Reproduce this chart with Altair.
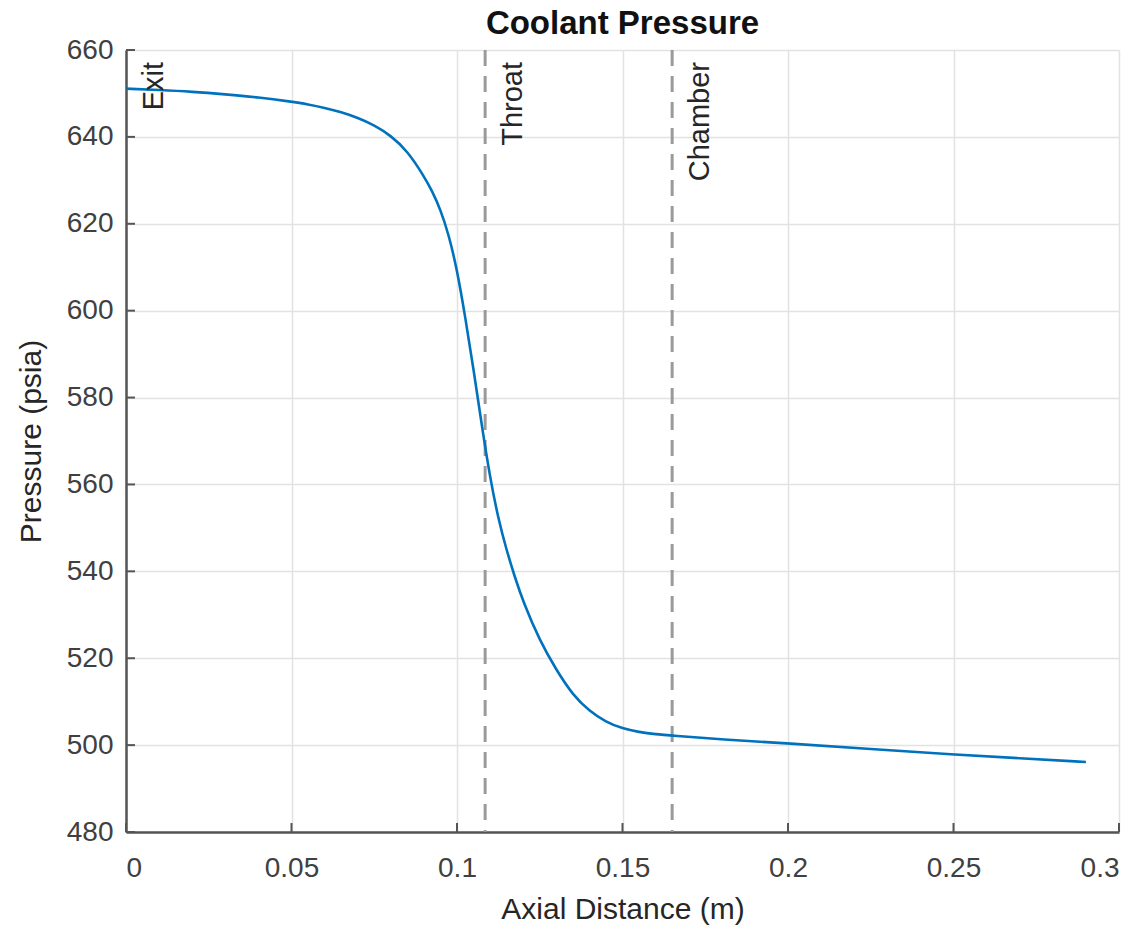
import altair as alt
import pandas as pd

# Curve
dist = [0.0, 0.01, 0.02, 0.03, 0.04, 0.05, 0.055, 0.06, 0.065, 0.07, 0.075, 0.08,
        0.085, 0.09, 0.0925, 0.095, 0.0975, 0.1, 0.1025, 0.105, 0.1075, 0.11,
        0.1125, 0.115, 0.1175, 0.12, 0.125, 0.13, 0.135, 0.14, 0.145, 0.15,
        0.155, 0.16, 0.165, 0.18, 0.2, 0.225, 0.25, 0.27, 0.29]
pressure = [651.1, 650.8, 650.4, 649.8, 649.1, 648.1, 647.5, 646.7, 645.7, 644.4,
            642.7, 640.3, 636.8, 631.0, 627.5, 623.3, 617.5, 609.5, 598.5, 586.5,
            573.5, 561.5, 552.0, 544.8, 538.6, 533.0, 524.0, 517.3, 511.5, 507.8,
            505.3, 503.8, 503.0, 502.5, 502.2, 501.3, 500.4, 499.1, 497.8, 497.0,
            496.1]

# Station markers
station_names = ["Exit", "Throat", "Chamber"]
station_x = [0.0, 0.1085, 0.165]
station_line = [False, True, True]

x_ticks = [0, 0.05, 0.1, 0.15, 0.2, 0.25, 0.3]
y_ticks = [480, 500, 520, 540, 560, 580, 600, 620, 640, 660]

W, H = 993, 782
FONT = "Liberation Sans"

curve = pd.DataFrame({"x": dist, "p": pressure})
stations = pd.DataFrame({"name": station_names, "x": station_x,
                         "line": station_line, "top": [660] * 3})
xt = pd.DataFrame({"x": x_ticks})
yt = pd.DataFrame({"y": y_ticks})

xscale = alt.Scale(domain=[0, 0.3], nice=False, zero=False)
yscale = alt.Scale(domain=[480, 660], nice=False, zero=False)

xaxis = alt.Axis(values=x_ticks, format=".2~f", title="Axial Distance (m)",
                 grid=True, ticks=False, tickSize=0, labelPadding=22,
                 titlePadding=12)
yaxis = alt.Axis(values=y_ticks, format="d", title="Pressure (psia)",
                 grid=True, ticks=False, tickSize=0, labelPadding=13,
                 titlePadding=20)

line = alt.Chart(curve).mark_line(color="#0072BD", strokeWidth=2.6,
                                  interpolate="basis").encode(
    x=alt.X("x:Q", scale=xscale, axis=xaxis),
    y=alt.Y("p:Q", scale=yscale, axis=yaxis),
)

vlines = alt.Chart(stations).transform_filter("datum.line").mark_rule(
    color="#9a9a9a", strokeWidth=3, strokeDash=[16, 10]).encode(
    x=alt.X("x:Q", scale=xscale),
)

labels = alt.Chart(stations).mark_text(
    angle=270, align="right", baseline="alphabetic", dx=-12, dy=37,
    font=FONT, fontSize=29, color="#262626").encode(
    x=alt.X("x:Q", scale=xscale),
    y=alt.Y("top:Q", scale=yscale),
    text="name:N",
)

xticks = alt.Chart(xt).mark_rule(color="#555555", strokeWidth=2).encode(
    x=alt.X("x:Q", scale=xscale),
    y=alt.value(H), y2=alt.value(H - 9),
)
yticks = alt.Chart(yt).mark_rule(color="#555555", strokeWidth=2).encode(
    y=alt.Y("y:Q", scale=yscale),
    x=alt.value(0), x2=alt.value(9),
)

chart = alt.layer(vlines, line, labels, xticks, yticks).properties(
    width=W, height=H,
    background="white",
    title=alt.Title("Coolant Pressure", font=FONT, fontSize=33,
                    fontWeight="bold", color="#111111", anchor="middle",
                    offset=-5),
    padding={"left": 126, "top": 50, "right": 26, "bottom": 100},
    autosize=alt.AutoSizeParams(type="none"),
).configure_axis(
    labelFont=FONT, labelFontSize=28, labelColor="#404040",
    titleFont=FONT, titleFontSize=30, titleFontWeight="normal", titleColor="#262626",
    domainColor="#555555", domainWidth=2.5,
    gridColor="#e2e2e2", gridWidth=1.5,
).configure_view(stroke=None)

chart.save("out.html", embed_options={"renderer": "svg", "actions": False})
